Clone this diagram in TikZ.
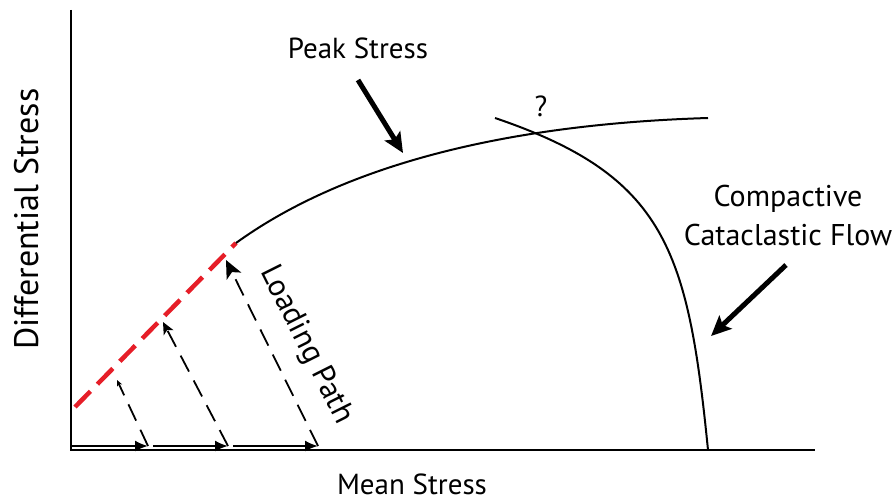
\documentclass[tikz,border=0pt]{standalone}
\usepackage{fontspec}
\setmainfont{PT Sans}
\usepackage{tikz}
\usetikzlibrary{arrows.meta, calc, positioning}

\definecolor{envred}{RGB}{230,30,40}

\begin{document}
\begin{tikzpicture}[x=1pt, y=-1pt, >=latex,
    axis/.style={line width=2.6pt},
    curve/.style={line width=2pt},
    envelope/.style={line width=4.5pt, envred, dash pattern=on 22pt off 10pt},
    loadpath/.style={line width=1.8pt, dash pattern=on 18pt off 10pt},
    bigarrow/.style={line width=5pt, -{Stealth[length=20pt, width=18pt, inset=4pt]}},
    lbl/.style={font=\fontsize{29}{39}\selectfont, inner sep=0pt}]
    \useasboundingbox (0,0) rectangle (896,502);

    % Axes
    \coordinate (O) at (71,450);
    \draw[axis] (71,10) -- (O) -- (815,450);
    \node[lbl, font=\fontsize{34}{40}\selectfont, rotate=90] (ylab) at (27,219) {Differential Stress};
    \node[lbl] (xlab) at (412,484) {Mean Stress};

    % Red envelope, peak stress curve, cap
    \coordinate (r0) at (75,407);
    \coordinate (r1) at (236,243);
    \coordinate (p1) at (708,118);
    \coordinate (c0) at (495,118);
    \coordinate (c1) at (708,450);
    \draw[envelope] (r0) -- (r1);
    \draw[curve] (r1) .. controls (330,175) and (480,125) .. (p1);
    \draw[curve] (c0) .. controls (666,176) and (688,250) .. (c1);
    \node[lbl] (q) at (541,106) {?};

    % Loading paths
    \foreach \i/\xa/\xb/\xe/\ye/\tl in {1/72/148/117/380/6, 2/153/228/163/322/12, 3/233/318/226/260/18} {
        \coordinate (a\i) at (\xa,446);
        \coordinate (b\i) at (\xb,446);
        \coordinate (e\i) at (\xe,\ye);
        \draw[line width=2pt, -{Latex[length=13pt, width=11pt]}] (a\i) -- (b\i);
        \draw[loadpath, -{Stealth[length=\tl pt, width=0.9*\tl pt, inset=0.25*\tl pt]}] (b\i) -- (e\i);
    }
    \node[lbl, font=\fontsize{31}{36}\selectfont, rotate=-63.4] (load) at (306,345) {Loading Path};

    % Labels with arrows
    \node[lbl] (peak) at (358,48) {Peak Stress};
    \coordinate (pk0) at (358,80);
    \coordinate (pk1) at (403,153);
    \draw[bigarrow] (pk0) -- (pk1);

    \node[lbl, font=\fontsize{30}{39}\selectfont, align=center] (ccf) at (788,216) {Compactive\\Cataclastic Flow};
    \coordinate (cf0) at (786,265);
    \coordinate (cf1) at (711,336);
    \draw[bigarrow] (cf0) -- (cf1);
\end{tikzpicture}
\end{document}
